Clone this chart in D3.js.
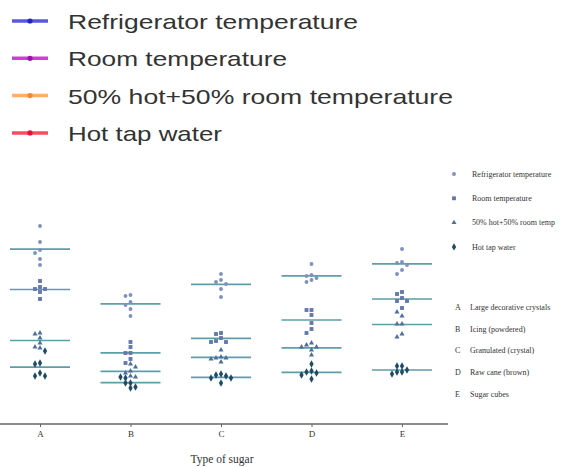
<!DOCTYPE html>
<html>
<head>
<meta charset="utf-8">
<script src="https://cdn.jsdelivr.net/npm/d3@7"></script>
<style>
  html, body { margin: 0; padding: 0; background: #fff; }
  svg { display: block; }
</style>
</head>
<body>
<svg id="chart" width="561" height="467"></svg>
<script>
// Sugar types along the x axis
const categories = ["A", "B", "C", "D", "E"];
const categoryNames = ["Large decorative crystals", "Icing (powdered)", "Granulated (crystal)", "Raw cane (brown)", "Sugar cubes"];

// Water conditions
const seriesNames = ["Refrigerator temperature", "Room temperature", "50% hot+50% room temp", "Hot tap water"];
const topLegendNames = ["Refrigerator temperature", "Room temperature", "50% hot+50% room temperature", "Hot tap water"];

// Replicate measurements per sugar type (six trials each)
const refrigerator = [
  [199, 183, 175, 172, 166, 160],
  [130, 129, 123, 120, 116, 109],
  [151, 145, 143, 141, 136, 128],
  [161, 150, 149, 147, 145, 143],
  [176, 163, 162, 160, 155, 151]
];
const room = [
  [144, 138, 136, 136, 133, 126],
  [83, 78, 72, 72, 66, 62],
  [92, 91, 87, 84, 83, 83],
  [115, 115, 110, 102, 96, 92],
  [133, 131, 127, 124, 124, 117]
];
const halfHot = [
  [92, 91, 87, 82, 78, 77],
  [61, 58, 54, 52, 49, 48],
  [75, 68, 67, 67, 66, 63],
  [82, 80, 78, 78, 75, 70],
  [113, 109, 101, 101, 91, 88]
];
const hotTap = [
  [74, 62, 61, 52, 49, 49],
  [48, 47, 42, 42, 38, 37],
  [51, 50, 49, 47, 47, 42],
  [61, 54, 53, 52, 50, 46],
  [59, 59, 55, 53, 53, 51]
];
const seriesValues = [refrigerator, room, halfHot, hotTap];

const svg = d3.select("#chart");

// Scales
const x = d3.scalePoint().domain(categories).range([40, 402]);
const y = d3.scaleLinear().domain([0, 220]).range([425, 205]);

const pointColors = ["#8191bd", "#6379ab", "#4d6f9b", "#1d4b68"];
const symbolTypes = [d3.symbolCircle, d3.symbolSquare, d3.symbolTriangle, d3.symbolDiamond];
const symbolSizes = [12, 15, 11, 16];
const meanColor = "#5c9ea9";

// ---------- Top legend ----------
const topColors = ["#3b3bd6", "#c21fc9", "#ffa04f", "#ff2a44"];
const topMarker = ["#2424b8", "#a010a8", "#f08a35", "#e8102c"];
const topLegend = svg.append("g").attr("class", "top-legend");
topLegendNames.forEach((name, i) => {
  const cy = 21 + i * 37.3;
  const g = topLegend.append("g").attr("transform", `translate(0,${cy})`);
  g.append("line").attr("x1", 12).attr("x2", 48).attr("y1", 0).attr("y2", 0)
    .attr("stroke", topColors[i]).attr("stroke-width", 3.5).attr("stroke-opacity", 0.85);
  g.append("circle").attr("cx", 30).attr("cy", 0).attr("r", 2.6).attr("fill", topMarker[i]);
  const widths = [290, 219, 385, 154];
  g.append("text").attr("x", 68).attr("y", 8)
    .attr("font-family", "Liberation Sans, Arial, sans-serif")
    .attr("font-size", 21).attr("fill", "#333")
    .attr("textLength", widths[i]).attr("lengthAdjust", "spacingAndGlyphs")
    .text(name);
});

// ---------- Points (simple beeswarm dodge per category) ----------
const plot = svg.append("g").attr("class", "plot");
categories.forEach((cat, ci) => {
  const cx = x(cat);
  const placed = [];
  seriesValues.forEach((series, si) => {
    const vals = series[ci];
    // mean line
    const m = d3.mean(vals);
    plot.append("line")
      .attr("x1", cx - 30).attr("x2", cx + 30)
      .attr("y1", y(m)).attr("y2", y(m))
      .attr("stroke", meanColor).attr("stroke-width", 1.6);
    vals.forEach(v => {
      const py = y(v);
      const offsets = [0, -5, 5, -10, 10, -15, 15];
      let ox = 0;
      for (const o of offsets) {
        const clash = placed.some(p => Math.hypot(p.x - (cx + o), p.y - py) < 5);
        if (!clash) { ox = o; break; }
      }
      placed.push({ x: cx + ox, y: py });
      plot.append("path")
        .attr("d", d3.symbol().type(symbolTypes[si]).size(symbolSizes[si])())
        .attr("transform", `translate(${cx + ox},${py})`)
        .attr("fill", pointColors[si]);
    });
  });
});

// ---------- X axis ----------
const xAxis = d3.axisBottom(x).tickSize(3).tickPadding(4).tickSizeOuter(0);
const axisG = svg.append("g").attr("transform", "translate(0,424)").call(xAxis);
axisG.select(".domain").remove();
axisG.append("line").attr("x1", 0).attr("x2", 448).attr("y1", 0).attr("y2", 0)
  .attr("stroke", "#666").attr("stroke-width", 1.4);
axisG.selectAll(".tick line").attr("stroke", "#666");
axisG.selectAll(".tick text")
  .attr("font-family", "Liberation Serif, Times New Roman, serif")
  .attr("font-size", 9).attr("fill", "#333");

svg.append("text").attr("x", 222).attr("y", 463).attr("text-anchor", "middle")
  .attr("font-family", "Liberation Serif, Times New Roman, serif")
  .attr("font-size", 11.5).attr("fill", "#333")
  .text("Type of sugar");

// ---------- Right legends ----------
const serif = "Liberation Serif, Times New Roman, serif";
const rl = svg.append("g").attr("class", "series-legend");
seriesNames.forEach((name, i) => {
  const cy = 174 + i * 24.3;
  rl.append("path")
    .attr("d", d3.symbol().type(symbolTypes[i]).size(symbolSizes[i])())
    .attr("transform", `translate(454,${cy})`)
    .attr("fill", pointColors[i]);
  rl.append("text").attr("x", 472).attr("y", cy + 2.8)
    .attr("font-family", serif).attr("font-size", 8).attr("fill", "#333")
    .text(name);
});

const cl = svg.append("g").attr("class", "category-legend");
categories.forEach((c, i) => {
  const cy = 307 + i * 21.7;
  cl.append("text").attr("x", 455).attr("y", cy + 2.8)
    .attr("font-family", serif).attr("font-size", 8).attr("fill", "#333")
    .text(c);
  cl.append("text").attr("x", 470).attr("y", cy + 2.8)
    .attr("font-family", serif).attr("font-size", 8).attr("fill", "#333")
    .text(categoryNames[i]);
});
</script>
</body>
</html>
